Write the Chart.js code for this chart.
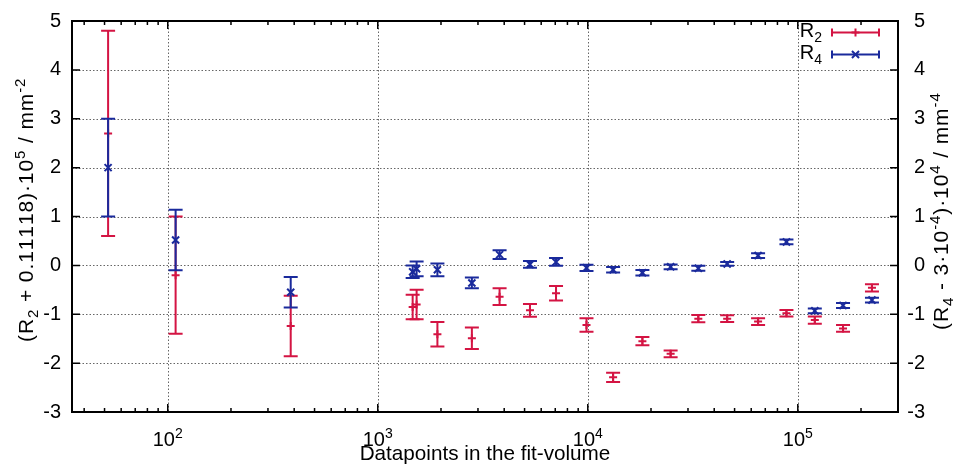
<!DOCTYPE html>
<html>
<head>
<meta charset="utf-8">
<script src="https://cdn.jsdelivr.net/npm/chart.js@4.4.1/dist/chart.umd.min.js"></script>
<style>
  html, body { margin: 0; padding: 0; background: #fff; }
  #wrap { width: 958px; height: 469px; }
</style>
</head>
<body>
<div id="wrap"><canvas id="fitChart" width="958" height="469"></canvas></div>
<script>
// number of datapoints in each fit-volume
const datapoints = [52, 109, 385, 1466, 1531, 1923, 2806, 3802, 5306, 7060, 9860,
                    13200, 18200, 24800, 33600, 46100, 64700, 88300, 120500, 164200, 225500];

// (R2 + 0.11118)*1e5 with its uncertainty
const r2Values = [2.7, -0.2, -1.24, -0.85, -0.8, -1.41, -1.49, -0.64, -0.92, -0.57, -1.22,
                  -2.29, -1.55, -1.81, -1.09, -1.09, -1.15, -0.98, -1.12, -1.29, -0.46];
const r2Errors = [2.1, 1.2, 0.62, 0.25, 0.3, 0.25, 0.22, 0.17, 0.13, 0.15, 0.14,
                  0.095, 0.085, 0.07, 0.075, 0.07, 0.07, 0.065, 0.075, 0.07, 0.075];

// (R4 - 3e-4)*1e4 with its uncertainty
const r4Values = [2.0, 0.52, -0.55, -0.13, -0.07, -0.09, -0.36, 0.22, 0.02, 0.07, -0.05,
                  -0.09, -0.15, -0.03, -0.06, 0.03, 0.2, 0.48, -0.93, -0.82, -0.71];
const r4Errors = [1.0, 0.62, 0.31, 0.13, 0.15, 0.13, 0.11, 0.09, 0.07, 0.08, 0.065,
                  0.055, 0.055, 0.05, 0.05, 0.04, 0.05, 0.05, 0.05, 0.05, 0.05];

const xDecades = [100, 1000, 10000, 100000];
const xExponents = ['2', '3', '4', '5'];
const yGridValues = [-2, -1, 0, 1, 2, 3, 4];

const RED = '#d41443';
const BLUE = '#1a2a9c';
const FONT = '"Liberation Sans", Arial, Helvetica, sans-serif';

function points(values) {
    return datapoints.map((x, i) => ({ x: x, y: values[i] }));
}

// text with sub/superscripts: parts = [[text, 'sub'|'sup'|undefined], ...]
// gap adds extra room after every character
function drawRich(ctx, parts, x, y, align, size, gap) {
    size = size || 20;
    gap = gap || 0;
    const big = size + 'px ' + FONT, small = Math.round(size * 0.7) + 'px ' + FONT;
    let total = 0;
    parts.forEach(p => {
        ctx.font = p[1] ? small : big;
        total += ctx.measureText(p[0]).width + gap * p[0].length;
    });
    let cx = align === 'center' ? x - total / 2 : (align === 'right' ? x - total : x);
    ctx.textAlign = 'left';
    ctx.textBaseline = 'alphabetic';
    parts.forEach(p => {
        ctx.font = p[1] ? small : big;
        const dy = p[1] === 'sup' ? -size * 0.4 : (p[1] === 'sub' ? size * 0.25 : 0);
        for (const ch of p[0]) {
            ctx.fillText(ch, cx, y + dy);
            cx += ctx.measureText(ch).width + gap;
        }
    });
}

const errorBars = {
    id: 'errorBars',
    beforeDatasetDraw(chart, args) {
        const ds = chart.data.datasets[args.index];
        if (!ds.errors) return;
        const ctx = chart.ctx, area = chart.chartArea;
        const xs = chart.scales.x, ys = chart.scales[args.meta.yAxisID];
        ctx.save();
        ctx.beginPath();
        ctx.rect(area.left, area.top, area.right - area.left, area.bottom - area.top);
        ctx.clip();
        ctx.strokeStyle = ds.borderColor;
        ctx.lineWidth = 2;
        ds.data.forEach((p, i) => {
            const px = xs.getPixelForValue(p.x);
            const lo = ys.getPixelForValue(p.y - ds.errors[i]);
            const hi = ys.getPixelForValue(p.y + ds.errors[i]);
            ctx.beginPath();
            ctx.moveTo(px, lo); ctx.lineTo(px, hi);
            ctx.moveTo(px - 7, lo); ctx.lineTo(px + 7, lo);
            ctx.moveTo(px - 7, hi); ctx.lineTo(px + 7, hi);
            ctx.stroke();
        });
        ctx.restore();
    }
};

const frame = {
    id: 'frame',
    beforeDatasetsDraw(chart) {
        const ctx = chart.ctx, a = chart.chartArea;
        const xs = chart.scales.x, ys = chart.scales.y;
        ctx.save();
        ctx.strokeStyle = '#666';
        ctx.lineWidth = 1;
        ctx.setLineDash([1.5, 2]);
        ctx.beginPath();
        yGridValues.forEach(v => {
            const py = Math.round(ys.getPixelForValue(v)) + 0.5;
            ctx.moveTo(a.left, py); ctx.lineTo(a.right, py);
        });
        xDecades.forEach(v => {
            const px = Math.round(xs.getPixelForValue(v)) + 0.5;
            ctx.moveTo(px, a.top); ctx.lineTo(px, a.bottom);
        });
        ctx.stroke();
        ctx.restore();
    },
    afterDatasetsDraw(chart) {
        const ctx = chart.ctx, a = chart.chartArea;
        const xs = chart.scales.x, ys = chart.scales.y;
        ctx.save();
        ctx.strokeStyle = '#000';
        ctx.lineWidth = 2;
        ctx.setLineDash([]);
        ctx.strokeRect(a.left, a.top, a.right - a.left, a.bottom - a.top);

        // inward tick marks on all four sides
        ctx.lineWidth = 1.5;
        ctx.beginPath();
        yGridValues.forEach(v => {
            const py = ys.getPixelForValue(v);
            ctx.moveTo(a.left, py); ctx.lineTo(a.left + 8, py);
            ctx.moveTo(a.right, py); ctx.lineTo(a.right - 8, py);
        });
        for (let d = 10; d <= 1e5; d *= 10) {
            for (let m = 1; m <= 9; m++) {
                const v = m * d;
                if (v < xs.min || v > xs.max) continue;
                const px = xs.getPixelForValue(v);
                const len = m === 1 ? 8 : 4;
                ctx.moveTo(px, a.bottom); ctx.lineTo(px, a.bottom - len);
                ctx.moveTo(px, a.top); ctx.lineTo(px, a.top + len);
            }
        }
        ctx.stroke();

        // key
        ctx.fillStyle = '#000';
        drawRich(ctx, [['R'], ['2', 'sub']], 822, 37, 'right');
        drawRich(ctx, [['R'], ['4', 'sub']], 822, 59, 'right');
        [[RED, 32.5, 'cross'], [BLUE, 54.5, 'crossRot']].forEach(k => {
            ctx.strokeStyle = k[0];
            ctx.lineWidth = 2;
            ctx.beginPath();
            ctx.moveTo(832, k[1]); ctx.lineTo(879, k[1]);
            ctx.moveTo(832, k[1] - 4); ctx.lineTo(832, k[1] + 4);
            ctx.moveTo(879, k[1] - 4); ctx.lineTo(879, k[1] + 4);
            ctx.stroke();
            Chart.helpers.drawPoint(ctx, { pointStyle: k[2], radius: k[2] === 'cross' ? 4 : 5, borderWidth: 2 }, 855.5, k[1]);
        });
        ctx.restore();
    },
    afterDraw(chart) {
        const ctx = chart.ctx, a = chart.chartArea, xs = chart.scales.x;
        ctx.save();
        ctx.fillStyle = '#000';
        xDecades.forEach((v, i) => {
            drawRich(ctx, [['10'], [xExponents[i], 'sup']], xs.getPixelForValue(v), 446, 'center');
        });
        drawRich(ctx, [['Datapoints in the fit-volume']], (a.left + a.right) / 2, 460, 'center', 20.7);

        ctx.save();
        ctx.translate(33, 342);
        ctx.rotate(-Math.PI / 2);
        drawRich(ctx, [['(R'], ['2', 'sub'], [' + 0.11118)\u00b710'], ['5', 'sup'], [' / mm'], ['-2', 'sup']], 0, 0, 'left', 21, 0.9);
        ctx.restore();

        ctx.save();
        ctx.translate(948, 330);
        ctx.rotate(-Math.PI / 2);
        drawRich(ctx, [['(R'], ['4', 'sub'], [' - 3\u00b710'], ['-4', 'sup'], [')\u00b710'], ['4', 'sup'], [' / mm'], ['-4', 'sup']], 0, 0, 'left', 21, 0.9);
        ctx.restore();
        ctx.restore();
    }
};

const tickFont = { family: FONT, size: 20, lineHeight: 1 };

new Chart(document.getElementById('fitChart'), {
    type: 'scatter',
    data: {
        datasets: [
            {
                label: 'R2',
                data: points(r2Values),
                errors: r2Errors,
                yAxisID: 'y',
                order: 2,
                borderColor: RED,
                backgroundColor: RED,
                pointStyle: 'cross',
                pointRadius: 4,
                pointBorderWidth: 2
            },
            {
                label: 'R4',
                data: points(r4Values),
                errors: r4Errors,
                yAxisID: 'y2',
                order: 1,
                borderColor: BLUE,
                backgroundColor: BLUE,
                pointStyle: 'crossRot',
                pointRadius: 5,
                pointBorderWidth: 2
            }
        ]
    },
    options: {
        responsive: false,
        animation: false,
        devicePixelRatio: 1,
        layout: { padding: { top: 12, left: 0, right: 33, bottom: 0 } },
        plugins: { legend: { display: false }, tooltip: { enabled: false } },
        scales: {
            x: {
                type: 'logarithmic',
                position: 'bottom',
                min: 35,
                max: 300000,
                grid: { display: false, drawTicks: false },
                border: { display: false },
                ticks: { display: false },
                afterFit: s => { s.height = 57; }
            },
            y: {
                position: 'left',
                min: -3,
                max: 5,
                grid: { display: false, drawTicks: false },
                border: { display: false },
                ticks: { stepSize: 1, color: '#000', font: tickFont, padding: 11 },
                afterFit: s => { s.width = 72; }
            },
            y2: {
                position: 'right',
                min: -3,
                max: 5,
                grid: { display: false, drawTicks: false },
                border: { display: false },
                ticks: { stepSize: 1, color: '#000', font: tickFont, padding: 9, crossAlign: 'far' },
                afterFit: s => { s.width = 27; }
            }
        }
    },
    plugins: [errorBars, frame]
});
</script>
</body>
</html>
